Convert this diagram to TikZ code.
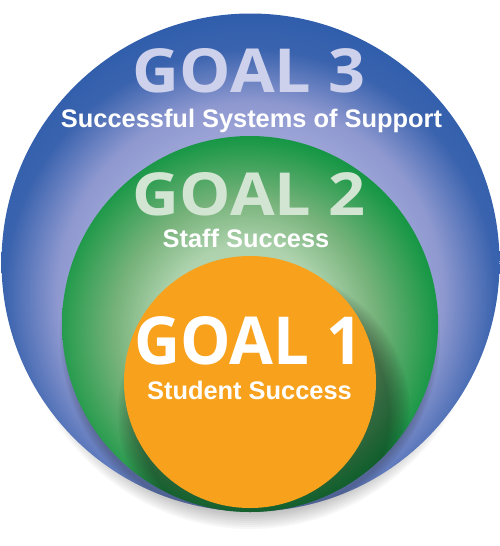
\documentclass[tikz,border=0pt]{standalone}
\usepackage{fontspec}
\setmainfont{Liberation Sans}
\newfontfamily\goalfont{Open Sans}
\definecolor{bluedeep}{HTML}{2E5DAB}
\definecolor{bluemid}{HTML}{3A63AE}
\definecolor{blueglowc}{HTML}{8F99D0}
\definecolor{bluelav}{HTML}{9BA3D6}
\definecolor{greendeep}{HTML}{139444}
\definecolor{greenedge}{HTML}{1B9848}
\definecolor{greenmid}{HTML}{78B37B}
\definecolor{greenlight}{HTML}{ADD2AD}
\definecolor{greenpale}{HTML}{C2DEC2}
\definecolor{orangefill}{HTML}{F7A11C}
\definecolor{goalthree}{HTML}{CDD1EC}
\definecolor{goaltwo}{HTML}{D2E5D3}
\pgfdeclareradialshading{blueglow}{\pgfpointorigin}{color(0bp)=(bluelav); color(13.5bp)=(bluelav); color(16bp)=(blueglowc); color(20.5bp)=(bluemid); color(24bp)=(bluedeep); color(50bp)=(bluedeep)}
\pgfdeclareradialshading{greenglow}{\pgfpointorigin}{color(0bp)=(greenpale); color(10.6bp)=(greenlight); color(16.25bp)=(greenmid); color(23.75bp)=(greenedge); color(25bp)=(greendeep); color(50bp)=(greendeep)}
\begin{document}
\begin{tikzpicture}[x=1pt,y=-1pt,
    goal/.style={font=\goalfont\bfseries, anchor=base, inner sep=0pt},
    sub/.style={font=\bfseries\fontsize{25.4}{30}\selectfont, text=white, anchor=base, inner sep=0pt}]
    \useasboundingbox (0,0) rectangle (500,546);
    % drop shadow under the whole disc
    \foreach \k in {0,...,11}
        \fill[black, opacity=0.03] (250.5,272) ellipse ({240-2*\k} and {257-2*\k});
    % goal 3 disc
    \begin{scope}
        \clip (250.5,262.5) circle (249);
        \shade[shading=blueglow] (250,295) circle (300);
        \foreach \k in {0,...,5}
            \fill[black, opacity=0.04] (250,336) circle ({190-1.5*\k}); % shadow of the green disc
    \end{scope}
    % goal 2 disc
    \begin{scope}
        \clip (250,324) circle (188);
        \shade[shading=greenglow] (245,330) circle (200);
        \foreach \k in {0,...,10}
            \fill[black, opacity=0.04] (264,414) circle ({146-2*\k}); % shadow of the orange disc
    \end{scope}
    % goal 1 disc
    \fill[orangefill] (250,382) circle (126);
    % labels
    \node[goal, text=goalthree] (g3) at (249,92) {\resizebox{232pt}{44pt}{GOAL 3}};
    \node[sub] (s3) at (251.5,127) {Successful Systems of Support};
    \node[goal, text=goaltwo] (g2) at (249,215) {\resizebox{232pt}{43pt}{GOAL 2}};
    \node[sub] (s2) at (246,247) {Staff Success};
    \node[goal, text=white] (g1) at (248.5,364) {\resizebox{228pt}{48pt}{GOAL 1}};
    \node[sub] (s1) at (249.5,399) {Student Success};
\end{tikzpicture}
\end{document}
